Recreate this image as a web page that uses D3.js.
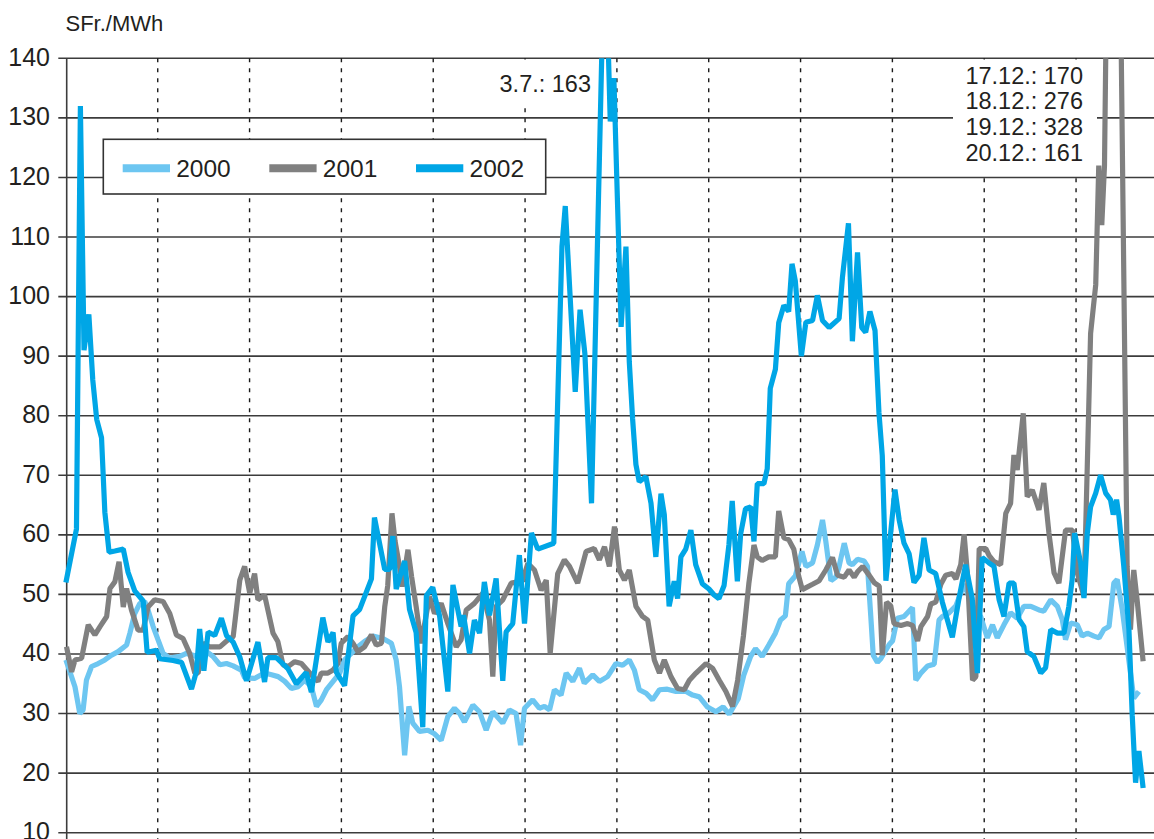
<!DOCTYPE html>
<html><head><meta charset="utf-8">
<script src="https://cdn.jsdelivr.net/npm/d3@7"></script>
<style>
html,body{margin:0;padding:0;background:#fff;}
svg text{font-family:"Liberation Sans",Arial,sans-serif;fill:#231f20;}
</style></head>
<body><svg id="chart" width="1154" height="839"></svg>
<script>
// ---- data: [day of year, SFr./MWh] ----
const yTicks = [10,20,30,40,50,60,70,80,90,100,110,120,130,140];
const monthIdx = [1,2,3,4,5,6,7,8,9,10,11];
const seriesNames = ["2000","2001","2002"];
const seriesColors = ["#6dc6f1","#808080","#00a6e6"];

const data2000 = [[0,39],[3,34.5],[4.6,30],[5.7,30.6],[6.8,35.6],[8.5,37.9],[10.7,38.4],[12.9,39],[15.1,39.8],[17.3,40.4],[20.1,41.5],[21.2,43.5],[22.8,46.8],[24.5,48.5],[26.1,48.8],[27.2,47.4],[28.9,44.6],[30.5,42.4],[32.2,40.1],[34.4,39.3],[37.7,39.6],[39.9,40.1],[42.1,39.8],[44.3,39.3],[46.6,40.4],[48.7,39.6],[51,38.2],[53.2,38.4],[55.4,38],[58.1,37.3],[59.2,36],[62.5,35.9],[65.8,36.8],[68.1,36.5],[70.3,36.2],[72.5,35.4],[74.7,34.2],[76.9,34.5],[79.1,35.6],[81.3,34.5],[83,31.2],[84.6,32.3],[86.3,34],[88.5,35.4],[90.7,36.8],[92.3,39],[94.5,40.1],[96.7,41.2],[98.9,42.1],[101.7,43],[105,42.6],[107.8,41.8],[109.4,39],[110.5,34.5],[112.2,23],[113.6,31.2],[114.9,28.4],[117.1,27],[119.9,27.2],[122.1,26.6],[124.3,25.5],[126.5,29.5],[128.7,30.9],[130.4,30],[132,28.6],[134.8,31.4],[137,30.3],[139.2,27.2],[141.4,30.3],[144.7,28.4],[146.9,30.6],[149.1,30],[150.6,24.7],[151.9,30.9],[154.6,32.3],[156.8,30.9],[158.5,31.2],[160.2,30.6],[161.8,34],[164,33.1],[165.7,36.8],[167.9,35.4],[170.1,37.6],[171.7,35.1],[174.5,36.5],[176.7,35.4],[179.4,36.2],[182.2,38.4],[184.4,38.1],[186.6,39],[188.3,37.3],[189.9,34],[192.2,33.4],[194.3,32.3],[196.6,34],[199.2,34.1],[202.1,33.7],[205.4,33.7],[207.6,33.1],[209.8,32.8],[212.5,31.1],[215.3,30.3],[217.7,31.1],[219.7,29.9],[222.7,32.5],[224.5,36.4],[226.8,39.6],[228.4,40.9],[230.6,39.6],[232.8,41.5],[235,43.5],[236.7,45.7],[238.3,46.4],[239.4,51.8],[241.6,53.1],[243.8,57.2],[245.1,54.7],[247.3,55.3],[248.9,58.3],[250.6,62.5],[251.7,58.9],[253.4,52.3],[255,52.9],[256.1,54.7],[257.8,58.6],[259.4,55.3],[260.5,55],[262.2,55.9],[264.4,55.6],[265.5,54.7],[266.6,46.3],[267.4,39.8],[268.8,38.6],[269.9,39.2],[272.7,41.6],[273.8,42.2],[275.4,46],[277.6,46.3],[280.4,47.8],[281.5,35.6],[283.2,36.8],[285.4,38],[287.6,38.3],[289.2,45.7],[290.3,46.3],[292.5,46.9],[294.8,48.1],[297.5,51.7],[300.3,48.1],[303,46.3],[305.2,42.7],[306.9,44.9],[308.5,42.7],[310.7,44.9],[312.9,46.9],[315.1,46],[317.3,48],[319.6,48],[322.3,47.4],[323.9,47.2],[326.2,49.1],[328.4,48],[330,45.8],[331.1,42.4],[332.8,45.2],[335,44.9],[336.6,43],[338.3,43.5],[340.5,43],[342.2,42.7],[343.8,44.1],[345.5,44.6],[347.1,51.9],[348.2,52.5],[349.9,47.4],[353.7,32.6],[355.4,33.7]];

const data2001 = [[0.2,41.2],[1.9,37],[3,39],[5.2,39.3],[7.4,44.9],[9.6,43.2],[11.3,44.6],[13.5,46.3],[14.6,51],[16.2,52.1],[17.6,55.5],[19,47.9],[20.1,51],[21.7,47.4],[23.9,44],[25.6,44],[27.2,47.9],[29.4,49.1],[32.2,48.8],[34.4,46.8],[36.6,43.2],[38.8,42.6],[41,40.1],[42.7,36.8],[43.8,36.8],[45.4,41.8],[47.6,41.2],[51,41.2],[53.7,42.4],[55.4,42.9],[57.6,52.4],[59.2,54.7],[60.9,50.2],[62.5,53.5],[63.6,49.1],[65.8,49.9],[68.6,43.5],[70.2,42.1],[71.9,38.2],[73.6,37.9],[75.8,38.7],[78,38.4],[81.3,36.5],[83.5,35.4],[84.6,36.8],[86.8,36.8],[88.5,37.3],[90.1,38.4],[91.2,41.8],[93.4,42.9],[95.1,41.8],[96.7,40.4],[98.9,41.2],[101.2,43.2],[102.8,41.5],[104.5,41.8],[105.6,47.9],[106.6,51.5],[108,63.6],[109,59],[110.5,54.7],[111.4,51.3],[113.3,57.5],[114.5,53],[116,48],[117.7,41.8],[120.4,49.6],[122.1,46.8],[124.3,48.5],[126.5,45.1],[129.3,41.2],[130.9,42.4],[132.6,47.4],[135.3,48.5],[138.1,50.2],[140.3,45.7],[141.4,36.2],[142.5,48],[144.7,49.1],[147.5,51.9],[149.7,52.1],[151.3,52.4],[153,55.2],[155.2,54.1],[157.4,50.7],[159.1,52.4],[160.4,40.1],[162.9,53.5],[165.1,55.8],[166.8,54.7],[169.5,51.9],[172.3,57.2],[175,57.7],[176.7,55.8],[178.4,58],[180,54.7],[181.7,61.4],[183.3,54.1],[185,52.4],[186.6,54.1],[188.8,48],[191,46.3],[192.7,45.7],[194.9,39],[196.6,36.8],[198.2,39],[200.4,36.2],[202.6,34.2],[204.8,34],[206.5,35.6],[208.7,36.8],[212,38.4],[214.2,37.6],[216.4,35.6],[218.6,33.7],[220.8,31.2],[222.5,35.6],[224.4,43],[226.2,51.8],[227.9,58.3],[229,56.3],[230.6,55.7],[232.8,56.3],[235,56.3],[236.1,64],[237.8,59.5],[239.4,59.2],[241.1,57.6],[242.7,53.1],[243.9,50.8],[247.3,51.7],[249.5,52.3],[251.7,54.1],[253.9,56.2],[255.6,53.2],[257.8,52.9],[259.4,54.1],[261.1,52.9],[262.2,53.8],[263.9,54.7],[266.1,53.2],[267.7,52],[269.4,51.4],[270.4,39.8],[271.8,48.7],[273.2,48.1],[274.3,45.1],[276.6,44.8],[278.8,45.1],[280.4,44.8],[282.1,42.2],[283.2,44.6],[285.4,46.3],[286.5,48.4],[288.1,48.7],[289.8,51.7],[291.4,53.2],[293.6,53.5],[294.8,52.6],[296.4,55],[297.5,60.1],[298.6,53.5],[300.3,35.6],[301.4,36.2],[302.5,57.7],[304.7,57.7],[305.8,56.5],[307.4,55.5],[309.6,55],[311.3,63.6],[312.9,65.3],[314,73.4],[315.1,70.9],[317.1,80.4],[318.4,66.4],[320.1,67.5],[322.3,64.2],[323.9,68.7],[325.6,60.3],[327.3,53.6],[328.9,51.9],[331.1,60.8],[333.4,60.8],[335,53.6],[337.2,49.7],[338.3,71.5],[339.4,93.8],[341.1,102],[342.1,122],[343.1,112],[344,122],[345.1,170],[346.5,276],[347.8,328],[349.1,161],[351.5,54.7],[352.6,44.1],[353.7,54.1],[354.8,49.1],[356.8,38.8]];

const data2002 = [[0,52],[3.5,61],[4.8,132],[6,91],[7.6,97],[8.9,86],[10.2,79.4],[11.8,76.3],[12.9,63.8],[14.3,57.1],[16.2,57.3],[19,57.6],[20.6,53.7],[22.8,50.6],[25.6,48.9],[26.9,40.3],[30,40.6],[31.1,39.2],[35.5,38.9],[38.3,38.6],[41.6,34.1],[43.2,37],[44.3,44.2],[45.7,37.2],[47.1,43.7],[49.3,43.1],[51.5,46],[53.2,43.1],[55.4,42],[57.6,39.5],[59.8,35.5],[63.6,42],[65.8,35.3],[66.9,39.4],[69.7,39.4],[73.6,37.5],[76.3,35],[79.6,36.9],[81.3,33.6],[85.1,46.1],[86.8,42],[88.5,43.6],[89.6,36.9],[92.3,34.7],[95.1,46.4],[97.3,47.5],[101.2,52.6],[102.2,62.9],[105.6,54.2],[107.2,54.2],[108.3,59.8],[109.4,50.9],[112.2,55.6],[113.8,47.5],[116,43.6],[118.2,27.7],[119.4,49.8],[121.5,51.2],[123.8,46.3],[126.5,33.7],[128.2,51.6],[130.9,44.6],[131.7,46.5],[133.7,40.1],[135.3,45.7],[137,43.5],[138.6,52.1],[140.3,46.5],[142.5,52.7],[144.7,35.5],[145.8,43.7],[148,45.1],[150.2,56.6],[151.9,45.1],[154.2,60.3],[156.3,57.6],[161.6,58.6],[164.3,108.4],[165.4,115.2],[168.7,84],[170.3,97.8],[171.9,90.4],[174.1,65.3],[178.5,163],[180.3,129.4],[181.5,136.7],[183.9,94.9],[185.5,108.4],[186.6,89.1],[187.7,79.5],[188.8,71.8],[189.9,68.9],[192.1,69.8],[193.8,65.3],[195.4,56.3],[197.1,66.9],[198.2,63.4],[199.8,48],[201.5,52.2],[202.6,49.3],[203.7,56.3],[205.3,57.6],[207,60.8],[208.6,55],[210.8,51.8],[213,50.9],[214.7,49.9],[216.3,49.3],[218,51.5],[219.6,58.3],[220.7,65.7],[222.4,52.2],[223.5,60.2],[225.1,64.4],[226.8,64.7],[227.9,58.9],[229,68.6],[231.2,68.6],[232.3,71.1],[233.3,84.6],[235,87.8],[236.1,95.6],[237.8,98.5],[239.4,97.5],[240.5,105.5],[241.6,102.6],[243.6,90],[245.1,95.7],[247.3,96],[248.9,100.2],[250.6,96],[252.8,94.8],[256.1,96.3],[257.2,103.2],[259.2,112.3],[260.5,92.5],[262.2,107.4],[263.6,94.8],[264.9,94],[266.3,97.5],[268,94.3],[269.3,80.5],[270.4,73.3],[271.6,52.3],[274.6,67.6],[276,62.5],[277.6,58.6],[279.3,56.8],[280.9,52],[282.6,53.2],[284.2,59.5],[285.9,54.1],[288.1,53.5],[290.3,48.7],[293.6,42.8],[295.8,49.3],[298,55],[300.2,49.3],[301.9,36.8],[303.5,56.2],[305.7,55.3],[307.4,54.7],[309.1,49.1],[310.7,46.3],[312.4,51.9],[314,51.9],[315.7,45.8],[317.3,44.6],[318.4,40.4],[320.6,39.6],[322.9,36.8],[324.5,37.7],[326.2,44.1],[328.4,43.5],[330.6,43.5],[332.2,48],[333.3,52.5],[334.1,60.3],[336.1,55.3],[337.2,49.4],[338.3,60.3],[339.4,64.7],[341.1,67],[342.7,70],[344.4,67],[346,65.9],[346.9,63.4],[348,65.9],[348.8,63.1],[350.4,54.7],[352.1,44.1],[353.2,29.6],[354.3,18.4],[355.4,23.7],[356.8,17.5]];

const unitLabel = "SFr./MWh";
const note1 = ["3.7.: 163"];
const note2 = ["17.12.: 170","18.12.: 276","19.12.: 328","20.12.: 161"];

// ---- drawing ----
const svg = d3.select("#chart");
const W = 1154, H = 839;
const x = d3.scaleLinear().domain([0,360.4]).range([65.9,1154]);
const y = d3.scaleLinear().domain([10,140]).range([832.7,58.3]);
const daysPerMonth = 365/12;

svg.append("rect").attr("width",W).attr("height",H).attr("fill","#fff");

// horizontal gridlines
svg.append("g").selectAll("line").data(yTicks).join("line")
  .attr("x1",58.3).attr("x2",W)
  .attr("y1",d=>y(d)).attr("y2",d=>y(d))
  .attr("stroke","#3c3c3c").attr("stroke-width",1.6);

// vertical dotted month lines
svg.append("g").selectAll("line").data(monthIdx).join("line")
  .attr("x1",d=>x(d*daysPerMonth)).attr("x2",d=>x(d*daysPerMonth))
  .attr("y1",y(140)).attr("y2",H)
  .attr("stroke","#1a1a1a").attr("stroke-width",1.4).attr("stroke-dasharray","4,6");

// y axis line
svg.append("line").attr("x1",66.7).attr("x2",66.7).attr("y1",y(140)).attr("y2",H)
  .attr("stroke","#3c3c3c").attr("stroke-width",1.6);

// tick labels
svg.append("g").selectAll("text").data(yTicks).join("text")
  .attr("x",50).attr("y",d=>y(d)+7.5).attr("text-anchor","end")
  .attr("font-size",25).text(d=>d);

svg.append("text").attr("x",65.5).attr("y",31).attr("font-size",22).text(unitLabel);

// white boxes behind annotations
svg.append("rect").attr("x",495).attr("y",59.5).attr("width",102).attr("height",47).attr("fill","#fff");
svg.append("rect").attr("x",953).attr("y",59.5).attr("width",144).attr("height",116).attr("fill","#fff");

// series
svg.append("defs").append("clipPath").attr("id","clip")
  .append("rect").attr("x",60).attr("y",y(140)).attr("width",W-60).attr("height",H-y(140));

const line = d3.line().x(d=>x(d[0])).y(d=>y(d[1]));
const all = [data2000,data2001,data2002];
svg.append("g").attr("clip-path","url(#clip)").selectAll("path").data(all).join("path")
  .attr("d",line).attr("fill","none")
  .attr("stroke",(d,i)=>seriesColors[i]).attr("stroke-width",5.2)
  .attr("stroke-linejoin","bevel");

// legend
const lg = svg.append("g");
lg.append("rect").attr("x",103.3).attr("y",139.3).attr("width",442.4).attr("height",54.7)
  .attr("fill","#fff").attr("stroke","#333").attr("stroke-width",1.6);
const legX = [122.7,269.3,416];
seriesNames.forEach((n,i)=>{
  lg.append("line").attr("x1",legX[i]).attr("x2",legX[i]+47.3).attr("y1",168.2).attr("y2",168.2)
    .attr("stroke",seriesColors[i]).attr("stroke-width",8);
  lg.append("text").attr("x",legX[i]+53.5).attr("y",177.3).attr("font-size",24.5).text(n);
});

// annotations
svg.append("text").attr("x",591).attr("y",91.5).attr("text-anchor","end").attr("font-size",23.5).text(note1[0]);
svg.append("g").selectAll("text").data(note2).join("text")
  .attr("x",1083).attr("y",(d,i)=>83.5+i*25.8).attr("text-anchor","end").attr("font-size",23.5).text(d=>d);
</script></body></html>
